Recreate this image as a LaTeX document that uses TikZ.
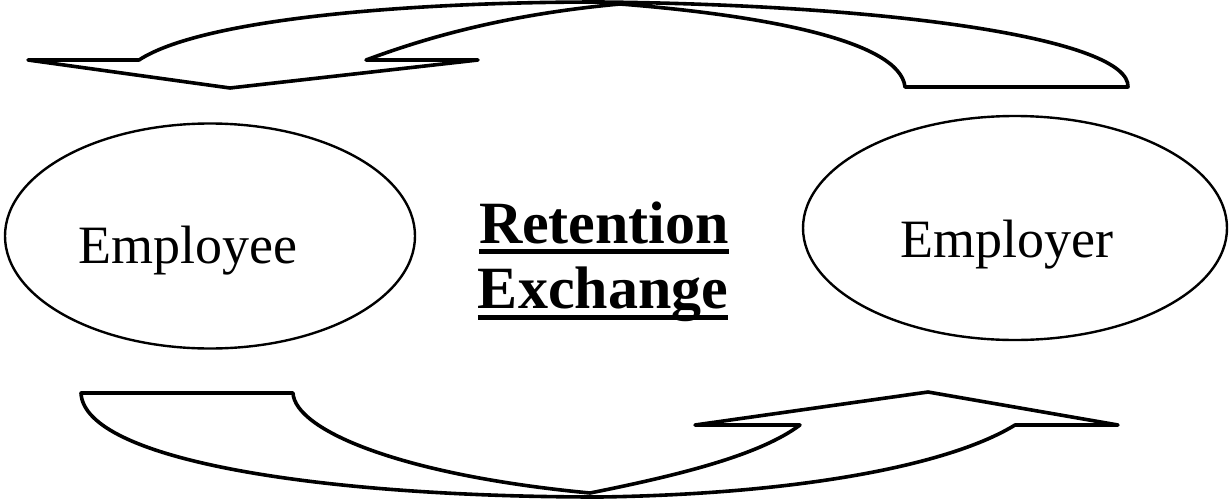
\documentclass[tikz,border=0pt]{standalone}
\usepackage{fontspec}
\setmainfont{Liberation Serif}
\usetikzlibrary{shapes.geometric}
\newcommand{\ulbox}[2]{\setbox0\hbox{#2}\leavevmode\rlap{\copy0}\rule[-#1]{\wd0}{5pt}}
\begin{document}
\begin{tikzpicture}[x=1pt,y=-1pt,
  ribbon/.style={draw=black, line width=3.6pt, line join=round},
  party/.style={draw=black, ellipse, line width=2.4pt, inner sep=0pt},
  partytext/.style={anchor=base, font=\fontsize{54}{60}\selectfont},
  titletext/.style={anchor=base, inner sep=0pt, font=\fontsize{60}{65}\selectfont\bfseries}]
\useasboundingbox (0,0) rectangle (1230,498);
% top curved arrow (towards employee)
\draw[ribbon] (905,87) -- (1128,87)
  .. controls (1130,40) and (900,5) .. (600,2)
  .. controls (400,2) and (200,20) .. (139,60)
  -- (28,60) -- (230,88) -- (478,60) -- (366,60)
  .. controls (420,40) and (500,15) .. (620,4)
  .. controls (760,15) and (900,40) .. (905,87) -- cycle;
% bottom curved arrow (towards employer)
\draw[ribbon] (81,393) -- (293,393)
  .. controls (295,430) and (400,475) .. (590,493)
  .. controls (680,475) and (760,455) .. (800,425)
  -- (695,425) -- (928,392) -- (1118,425) -- (1015,425)
  .. controls (950,465) and (800,494) .. (600,497)
  .. controls (320,497) and (84,460) .. (81,393) -- cycle;
% parties
\node[party, minimum width=410pt, minimum height=225pt] (employee) at (210,236) {};
\node[party, minimum width=424pt, minimum height=224pt] (employer) at (1015,228) {};
\node[partytext] (employeetxt) at (188,263) {Employee};
\node[partytext] (employertxt) at (1007,257) {Employer};
% title
\node[titletext] (retention) at (604,243) {\ulbox{10.5pt}{Retention}};
\node[titletext] (exchange) at (603,308) {\ulbox{11.5pt}{Exchange}};
\end{tikzpicture}
\end{document}
